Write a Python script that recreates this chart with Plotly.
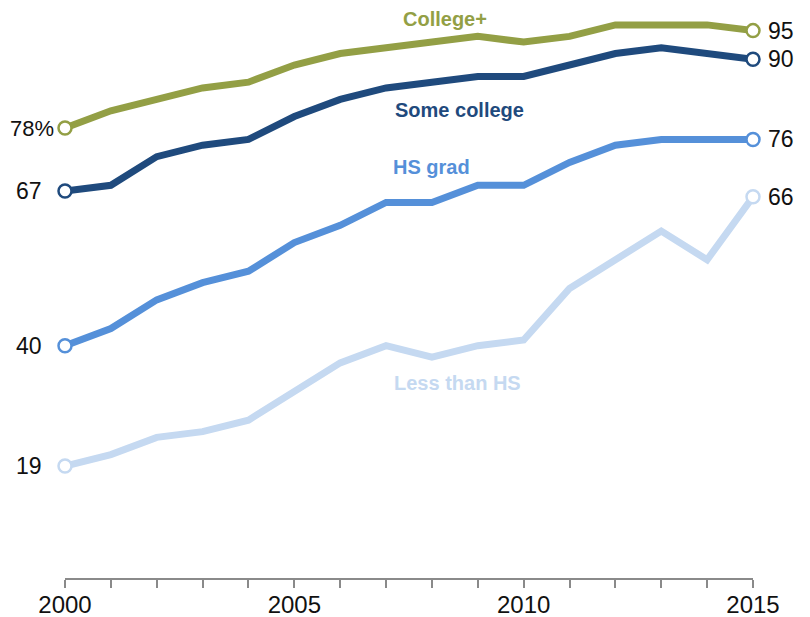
import plotly.graph_objects as go

years = list(range(2000, 2016))
college_plus = [78, 81, 83, 85, 86, 89, 91, 92, 93, 94, 93, 94, 96, 96, 96, 95]
some_college = [67, 68, 73, 75, 76, 80, 83, 85, 86, 87, 87, 89, 91, 92, 91, 90]
hs_grad = [40, 43, 48, 51, 53, 58, 61, 65, 65, 68, 68, 72, 75, 76, 76, 76]
less_than_hs = [19, 21, 24, 25, 27, 32, 37, 40, 38, 40, 41, 50, 55, 60, 55, 66]

series_names = ["College+", "Some college", "HS grad", "Less than HS"]
series_values = [college_plus, some_college, hs_grad, less_than_hs]
series_colors = ["#939F45", "#1F4A7D", "#5590D9", "#C5D9F1"]
x_tick_labels = ["2000", "", "", "", "", "2005", "", "", "", "", "2010", "", "", "", "", "2015"]

W, H = 810, 617
OFF = 8  # page offset of the figure in the browser
ml, mr, mt, mb = 65 - OFF, 810 - 753 + OFF, 10 - OFF, 617 - 578 + OFF
pw, ph = W - ml - mr, H - mt - mb

def paper(px, py):
    fx, fy = px - OFF, py - OFF
    return (fx - ml) / pw, 1 - (fy - mt) / ph

label_pos = {"College+": (445, 19), "Some college": (459, 110),
             "HS grad": (432, 167), "Less than HS": (457, 383)}

fig = go.Figure()
annotations = []
for name, vals, color in zip(series_names, series_values, series_colors):
    fig.add_trace(go.Scatter(
        x=years, y=vals, mode="lines", line=dict(color=color, width=7),
        showlegend=False, cliponaxis=False, hoverinfo="skip"))
    fig.add_trace(go.Scatter(
        x=[years[0], years[-1]], y=[vals[0], vals[-1]], mode="markers",
        marker=dict(size=13, color="white", line=dict(color=color, width=2.5)),
        showlegend=False, cliponaxis=False))
    if name == "College+":
        left_txt, lshift, lsize = f"{vals[0]}%", -9, 22
    else:
        left_txt, lshift, lsize = f"{vals[0]}", -21, 23
    annotations.append(dict(x=years[0], y=vals[0], xref="x", yref="y", text=left_txt,
                            showarrow=False, xanchor="right", xshift=lshift,
                            font=dict(family="Liberation Sans, Arial", size=lsize, color="#111")))
    annotations.append(dict(x=years[-1], y=vals[-1], xref="x", yref="y", text=f"{vals[-1]}",
                            showarrow=False, xanchor="left", xshift=13,
                            font=dict(family="Liberation Sans, Arial", size=23, color="#111")))
    px, py = label_pos[name]
    ax, ay = paper(px, py)
    annotations.append(dict(x=ax, y=ay, xref="paper", yref="paper",
                            text=f"<b>{name}</b>", showarrow=False, xanchor="center", yanchor="middle",
                            font=dict(family="Liberation Sans, Arial", size=20, color=color)))

fig.update_layout(
    width=W, height=H, margin=dict(l=ml, r=mr, t=mt, b=mb),
    plot_bgcolor="white", paper_bgcolor="white",
    annotations=annotations,
    xaxis=dict(range=[2000, 2015], tickvals=years, ticktext=x_tick_labels,
               ticks="outside", ticklen=8, tickwidth=2, tickcolor="#8a8a8a",
               showline=True, linecolor="#8a8a8a", linewidth=2, showgrid=False, zeroline=False,
               automargin=False, ticklabelstandoff=-4,
               tickfont=dict(family="Liberation Sans, Arial", size=24, color="#111")),
    yaxis=dict(range=[-0.55, 98.6], visible=False, showgrid=False, zeroline=False),
)
fig.write_html("out.html")
